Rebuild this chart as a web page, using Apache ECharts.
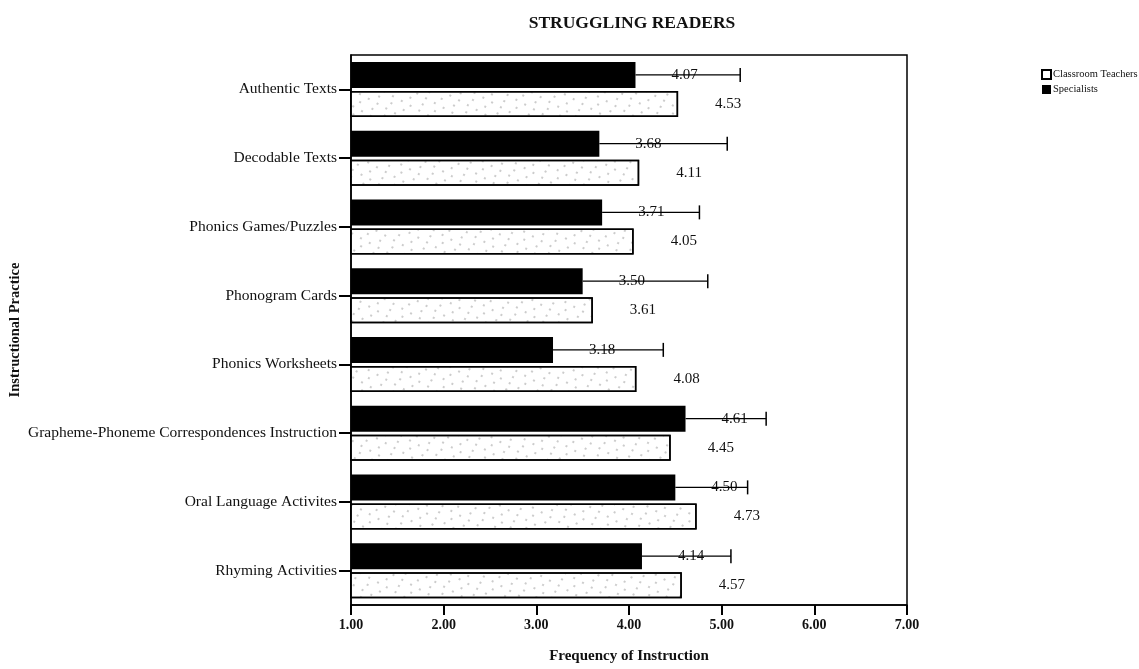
<!DOCTYPE html>
<html>
<head>
<meta charset="utf-8">
<script src="https://cdn.jsdelivr.net/npm/echarts@6/dist/echarts.min.js"></script>
<style>
html,body{margin:0;padding:0;background:#fff;}
#chart{width:1139px;height:669px;}
</style>
</head>
<body>
<div id="chart"></div>
<script>
// ---- data ----
const categories = [
  'Authentic Texts',
  'Decodable Texts',
  'Phonics Games/Puzzles',
  'Phonogram Cards',
  'Phonics Worksheets',
  'Grapheme-Phoneme Correspondences Instruction',
  'Oral Language Activites',
  'Rhyming Activities'
];
const specialists = [4.07, 3.68, 3.71, 3.50, 3.18, 4.61, 4.50, 4.14];
const specialistsUpper = [5.20, 5.06, 4.76, 4.85, 4.37, 5.48, 5.28, 5.10];
const classroomTeachers = [4.53, 4.11, 4.05, 3.61, 4.08, 4.45, 4.73, 4.57];
const xTicks = [1, 2, 3, 4, 5, 6, 7];

// ---- styles ----
const FONT = 'Liberation Serif';
const BAR_W = 26;
const BAR_GAP = 3;

const chart = echarts.init(document.getElementById('chart'), null, {renderer: 'canvas'});

const errData = categories.map((c, i) => [i, specialists[i], specialistsUpper[i]]);

const option = {
  backgroundColor: '#fff',
  animation: false,
  title: {
    text: 'STRUGGLING READERS',
    left: 627, top: 9, textAlign: 'center',
    textStyle: {fontFamily: FONT, fontSize: 17.5, fontWeight: 'bold', color: '#111'}
  },
  legend: {
    orient: 'vertical',
    left: 1036, top: 64,
    icon: 'rect',
    itemWidth: 9, itemHeight: 9, itemGap: 4,
    data: ['Classroom Teachers', 'Specialists'],
    textStyle: {fontFamily: FONT, fontSize: 10.5, color: '#111', padding: [0, 0, 0, -3]}
  },
  grid: {
    left: 351, right: 232, top: 55, bottom: 57,
    show: true, borderColor: '#000', borderWidth: 1.5, containLabel: false
  },
  xAxis: {
    type: 'value',
    min: xTicks[0], max: xTicks[xTicks.length - 1], interval: 1,
    name: 'Frequency of Instruction',
    nameLocation: 'middle', nameGap: 44,
    nameTextStyle: {fontFamily: FONT, fontSize: 15, fontWeight: 'bold', color: '#111'},
    axisLine: {show: true, lineStyle: {color: '#000', width: 1.5}},
    axisTick: {show: true, length: 10, lineStyle: {color: '#000', width: 2}},
    axisLabel: {
      margin: 13,
      fontFamily: FONT, fontSize: 14, fontWeight: 'bold', color: '#111',
      formatter: v => v.toFixed(2)
    },
    splitLine: {show: false}
  },
  yAxis: {
    type: 'category',
    data: categories,
    inverse: true,
    name: 'Instructional Practice',
    nameLocation: 'middle', nameGap: 328, nameRotate: 90,
    nameTextStyle: {fontFamily: FONT, fontSize: 14.5, fontWeight: 'bold', color: '#111'},
    axisLine: {show: true, lineStyle: {color: '#000', width: 1.5}},
    axisTick: {show: true, alignWithLabel: true, length: 12, lineStyle: {color: '#000', width: 2}},
    axisLabel: {margin: 14, fontFamily: FONT, fontSize: 15.5, color: '#111'}
  },
  series: [
    {
      name: 'Specialists',
      type: 'bar',
      data: specialists,
      barWidth: BAR_W,
      barGap: (BAR_GAP / BAR_W * 100) + '%',
      itemStyle: {color: '#000', borderColor: '#000', borderWidth: 0},
      label: {
        show: true, position: 'right', distance: 36,
        fontFamily: FONT, fontSize: 15, color: '#111',
        formatter: p => p.value.toFixed(2)
      },
      z: 2
    },
    {
      name: 'Classroom Teachers',
      type: 'bar',
      data: classroomTeachers,
      barWidth: BAR_W,
      itemStyle: {
        color: '#ffffff', borderColor: '#000', borderWidth: 1.5,
        decal: {
          symbol: 'rect', symbolSize: 1,
          color: 'rgba(0,0,0,0.2)',
          dashArrayX: [[1.5, 8], [1.5, 12]], dashArrayY: [1.5, 5], rotation: 0.5
        }
      },
      label: {
        show: true, position: 'right', distance: 37,
        fontFamily: FONT, fontSize: 15, color: '#111',
        formatter: p => p.value.toFixed(2)
      },
      z: 2
    },
    {
      name: 'errSpecialists',
      type: 'custom',
      data: errData,
      encode: {x: [1, 2], y: 0},
      z: 3,
      silent: true,
      renderItem: function (params, api) {
        const cat = api.value(0);
        const p1 = api.coord([api.value(1), cat]);
        const p2 = api.coord([api.value(2), cat]);
        const dy = -(BAR_W + BAR_GAP) / 2;
        const y = p1[1] + dy;
        return {
          type: 'group',
          children: [
            {type: 'line', shape: {x1: p1[0], y1: y, x2: p2[0], y2: y},
             style: {stroke: '#000', lineWidth: 1.2}},
            {type: 'line', shape: {x1: p2[0], y1: y - 7, x2: p2[0], y2: y + 7},
             style: {stroke: '#000', lineWidth: 1.5}}
          ]
        };
      }
    }
  ]
};
chart.setOption(option);
</script>
</body>
</html>
